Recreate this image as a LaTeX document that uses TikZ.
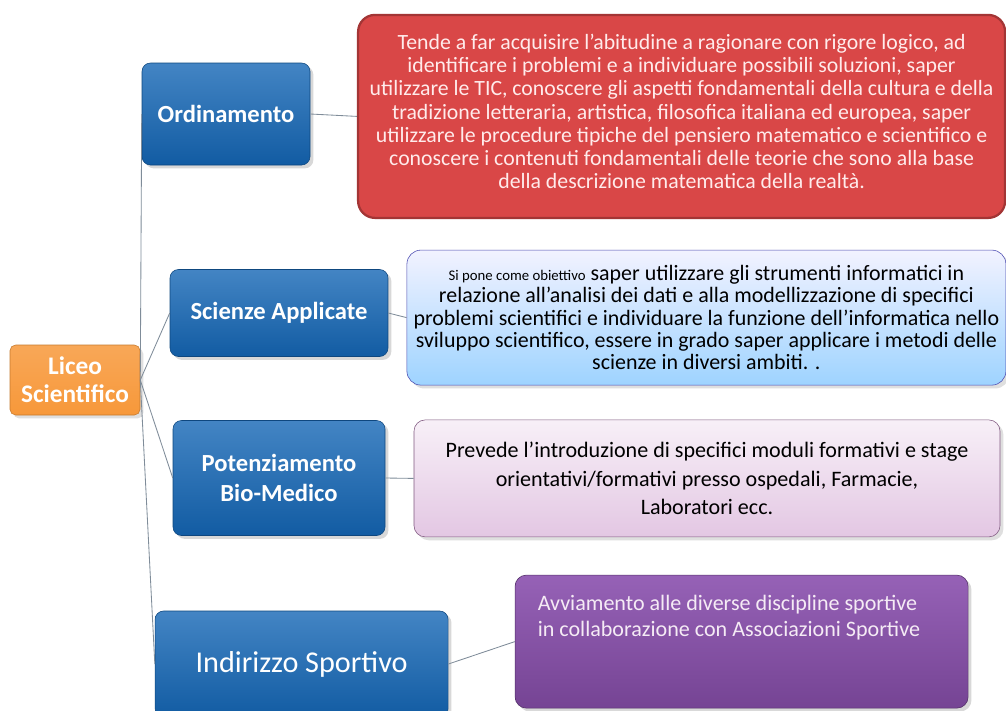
\documentclass[tikz,border=0pt]{standalone}
\usepackage{fontspec}
\setmainfont{Carlito}
\usetikzlibrary{shadows}
\definecolor{linea}{HTML}{7F8C99}
\definecolor{arancio}{HTML}{F7983A}
\definecolor{blu}{HTML}{1466B5}
\definecolor{rosso}{HTML}{D94747}
\definecolor{viola}{HTML}{8A50AE}
\tikzset{%
    lin/.style={line width=0.6pt, draw=linea},
    cen/.style={rectangle, rounded corners=4pt, top color=arancio!85!white, bottom color=arancio, draw=arancio!80!black, text=white, align=center, font=\bfseries\fontsize{18}{20}\selectfont, minimum width=3.25cm, minimum height=1.75cm, drop shadow={opacity=0.25}},
    ram/.style={rectangle, rounded corners=6pt, top color=blu!80!white, bottom color=blu!90!black, draw=blu!70!black, text=white, align=center, font=\bfseries\fontsize{17.5}{21}\selectfont, drop shadow={opacity=0.3}},
    rossa/.style={rectangle, rounded corners=12pt, fill=rosso, draw=rosso!75!black, line width=1.6pt, text=red!8!white, align=center, font=\fontsize{15.5}{16.4}\selectfont, minimum width=16.175cm, minimum height=5.075cm},
    azz/.style={rectangle, rounded corners=10pt, top color=blue!5!white, bottom color=blue!45!cyan!38!white, draw=blue!40!gray, text=black, align=center, font=\fontsize{15.6}{15.9}\selectfont, minimum width=14.975cm, minimum height=3.375cm, drop shadow={opacity=0.25}},
    lil/.style={rectangle, rounded corners=8pt, top color=violet!6!white, bottom color=violet!22!white, draw=violet!30!gray, text=black, align=center, font=\fontsize{15.7}{20}\selectfont, minimum width=14.65cm, minimum height=2.925cm, drop shadow={opacity=0.25}},
    vio/.style={rectangle, rounded corners=8pt, top color=viola!90!white, bottom color=viola!85!black, draw=viola!60!black, minimum width=11.325cm, minimum height=3.325cm, drop shadow={opacity=0.3}},
}
\begin{document}
\begin{tikzpicture}
    \useasboundingbox (0,0) rectangle (25.15,-17.75);
    \fill[white] (0,0) rectangle (25.15,-17.75);
    % rami
    \node[cen] (lic) at (1.875,-9.5) {Liceo\\Scientifico};
    \node[ram, minimum width=4.2cm, minimum height=2.55cm] (ord) at (5.65,-2.85) {Ordinamento};
    \node[ram, minimum width=5.45cm, minimum height=2.175cm] (sci) at (6.975,-7.825) {Scienze Applicate};
    \node[ram, minimum width=5.3cm, minimum height=2.875cm] (pot) at (6.975,-11.95) {Potenziamento\\Bio-Medico};
    \node[ram, minimum width=7.325cm, minimum height=2.65cm, font=\fontsize{21.5}{24}\selectfont] (ind) at (7.54,-16.6) {Indirizzo Sportivo};
    % descrizioni
    \node[rossa] (dord) at (17.04,-2.91) {Tende a far acquisire l’abitudine a ragionare con rigore logico, ad\\
        identificare i problemi e a individuare possibili soluzioni, saper\\
        utilizzare le TIC, conoscere gli aspetti fondamentali della cultura e della\\
        tradizione letteraria, artistica, filosofica italiana ed europea, saper\\
        utilizzare le procedure tipiche del pensiero matematico e scientifico e\\
        conoscere i contenuti fondamentali delle teorie che sono alla base\\
        della descrizione matematica della realtà.\vspace{0.25cm}};
    \node[azz] (dsci) at (17.66,-7.94) {{\fontsize{10.5}{12}\selectfont Si pone come obiettivo} saper utilizzare gli strumenti informatici in\\
        relazione all’analisi dei dati e alla modellizzazione di specifici\\
        problemi scientifici e individuare la funzione dell’informatica nello\\
        sviluppo scientifico, essere in grado saper applicare i metodi delle\\
        scienze in diversi ambiti. .};
    \node[lil] (dpot) at (17.675,-11.96) {Prevede l’introduzione di specifici moduli formativi e stage\\
        orientativi/formativi presso ospedali, Farmacie,\\
        Laboratori ecc.};
    \node[vio] (dind) at (18.54,-16.04) {};
    \node[anchor=west, align=left, text=violet!8!white, font=\fontsize{15.7}{19}\selectfont] (tind) at ([xshift=0.45cm, yshift=0.6cm]dind.west) {Avviamento alle diverse discipline sportive\\in collaborazione con Associazioni Sportive};
    % collegamenti
    \draw [lin] (lic.east) -- (ord.west);
    \draw [lin] (lic.east) -- (sci.west);
    \draw [lin] (lic.east) -- (pot.west);
    \draw [lin] (lic.east) -- (ind.west);
    \draw [lin] (ord.east) -- (dord.west);
    \draw [lin] (sci.east) -- (dsci.west);
    \draw [lin] (pot.east) -- (dpot.west);
    \draw [lin] (ind.east) -- (dind.west);
\end{tikzpicture}
\end{document}
